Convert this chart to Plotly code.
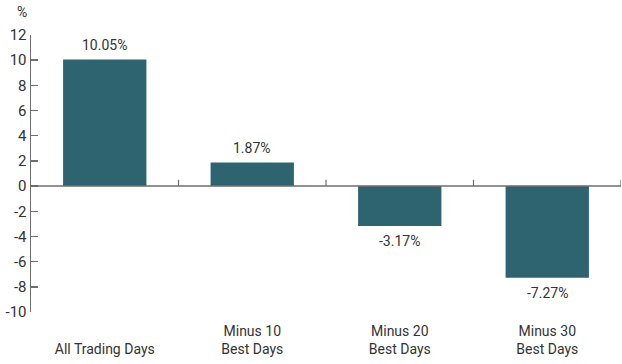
import plotly.graph_objects as go

categories = ["All Trading Days", "Minus 10<br>Best Days", "Minus 20<br>Best Days", "Minus 30<br>Best Days"]
values = [10.05, 1.87, -3.17, -7.27]
value_labels = ["10.05%", "1.87%", "-3.17%", "-7.27%"]
y_ticks = list(range(-10, 13, 2))
y_tick_labels = [str(v) for v in y_ticks]

FONT = "Liberation Sans Narrow, Roboto, Arial, sans-serif"
BAR = "#2e6470"
AXIS = "#6e6e6e"
TEXT = "#333333"

xs = list(range(len(categories)))
ticktext = [c if "<br>" in c else " <br>" + c for c in categories]

fig = go.Figure()
fig.add_trace(go.Bar(x=xs, y=values, width=0.565, marker=dict(color=BAR, line=dict(width=0)),
                     hoverinfo="skip"))

for x, v, t in zip(xs, values, value_labels):
    fig.add_annotation(x=x, y=v, text=t, showarrow=False,
                       yanchor="bottom" if v >= 0 else "top",
                       yshift=5 if v >= 0 else -5,
                       font=dict(family=FONT, size=14, color=TEXT))

# zero line and category separators
fig.add_shape(type="line", xref="x", yref="y", x0=-0.5, x1=len(categories) - 0.5, y0=0, y1=0,
              line=dict(color=AXIS, width=1.5), layer="above")
for i in range(len(categories)):
    b = i + 0.5
    fig.add_shape(type="line", xref="x", yref="y", x0=b, x1=b, y0=0, y1=0.5,
                  line=dict(color=AXIS, width=1.2), layer="above")

fig.add_annotation(xref="paper", yref="paper", x=-0.015, y=1.0, yshift=23, text="%",
                   showarrow=False, xanchor="center", yanchor="middle",
                   font=dict(family=FONT, size=14, color=TEXT))

fig.update_layout(
    width=622, height=364,
    margin=dict(l=31, r=1, t=35, b=52),
    paper_bgcolor="white", plot_bgcolor="white",
    showlegend=False,
    font=dict(family=FONT, size=14, color=TEXT),
    xaxis=dict(range=[-0.5, len(categories) - 0.5], tickvals=xs, ticktext=ticktext,
               showline=False, showgrid=False, zeroline=False, ticks="", automargin=False,
               ticklabelstandoff=9,
               tickfont=dict(family=FONT, size=14, color=TEXT)),
    yaxis=dict(range=[-10, 12], tickvals=y_ticks, ticktext=y_tick_labels,
               showgrid=False, zeroline=False, automargin=False,
               showline=True, linecolor=AXIS, linewidth=1.5,
               ticks="inside", ticklen=7, tickcolor=AXIS, tickwidth=1.5,
               tickfont=dict(family=FONT, size=15, color=TEXT)),
)

fig.write_html("out.html", config={"displayModeBar": False, "staticPlot": True},
               post_script="document.body.style.margin='0';document.body.style.overflow='hidden';")
